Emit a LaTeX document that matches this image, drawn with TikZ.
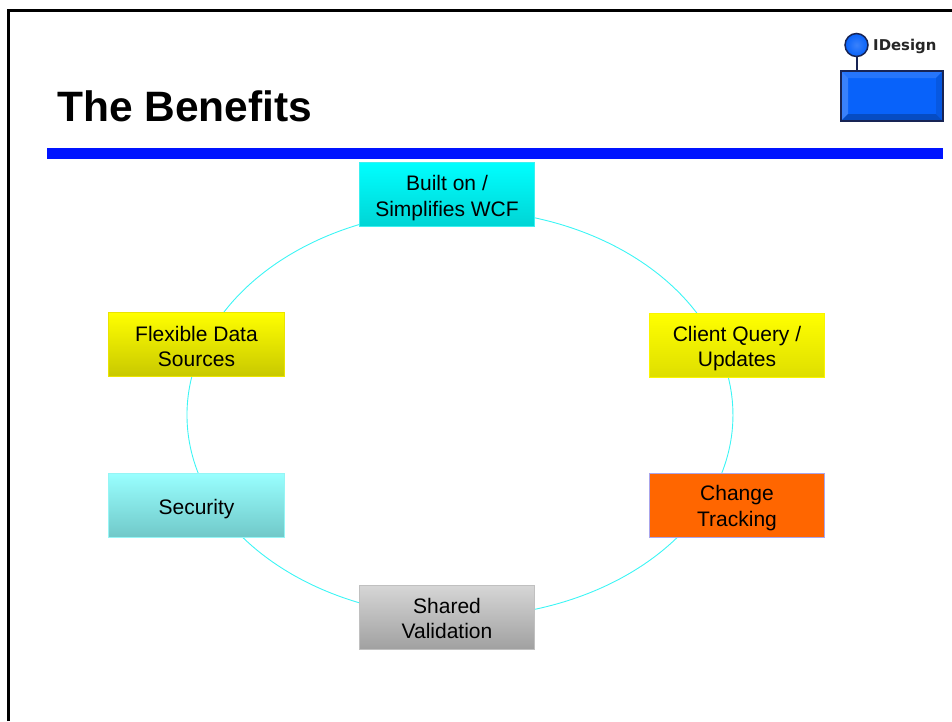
\documentclass[tikz,border=0pt]{standalone}
\usepackage{fontspec}
\setmainfont{Liberation Sans}
\newfontfamily\logofont{DejaVu Sans}[BoldFont={DejaVu Sans Bold}]
\usetikzlibrary{backgrounds}
\definecolor{barblue}{RGB}{0,20,255}
\definecolor{ringcyan}{RGB}{60,245,245}
\definecolor{logoblue}{RGB}{8,98,250}
\definecolor{logodark}{RGB}{24,36,84}
\newcommand{\firstline}[1]{\rule{0pt}{#1pt}}
\tikzset{
  benefit/.style={draw, line width=1.4pt, minimum width=175.5pt, minimum height=64.5pt,
    inner sep=0pt, align=center, font=\fontsize{21}{25.4}\selectfont, text=black},
  cyanbox/.style={benefit, draw={rgb,255:red,60;green,240;blue,240}, top color={rgb,255:red,0;green,255;blue,255}, bottom color={rgb,255:red,0;green,212;blue,212}},
  yellowa/.style={benefit, draw={rgb,255:red,235;green,228;blue,0}, top color={rgb,255:red,255;green,255;blue,0}, bottom color={rgb,255:red,200;green,200;blue,0}},
  yellowb/.style={benefit, draw={rgb,255:red,250;green,245;blue,0}, top color={rgb,255:red,255;green,255;blue,0}, bottom color={rgb,255:red,222;green,222;blue,0}},
  paleteal/.style={benefit, draw={rgb,255:red,150;green,245;blue,245}, top color={rgb,255:red,153;green,255;blue,255}, bottom color={rgb,255:red,112;green,200;blue,200}},
  orangebox/.style={benefit, draw={rgb,255:red,170;green,165;blue,235}, fill={rgb,255:red,255;green,102;blue,0}},
  graybox/.style={benefit, draw={rgb,255:red,192;green,192;blue,192}, top color={rgb,255:red,214;green,214;blue,214}, bottom color={rgb,255:red,160;green,160;blue,160}},
  ring/.style={draw=ringcyan, line width=0.9pt},
  ringarc/.style={ring, x radius=273, y radius=205},
  ringarclow/.style={ring, x radius=273, y radius=202},
  frameline/.style={draw=black, line width=2.6pt},
}
\begin{document}
\begin{tikzpicture}[x=1pt,y=-1pt]
\useasboundingbox (0,0) rectangle (952,721);
% slide frame
\draw[frameline] (8.5,721) -- (8.5,10.5) -- (952,10.5);
% title
\node[anchor=base west, inner sep=0pt, font=\fontsize{42.5}{50}\selectfont\bfseries] (title) at (57,121) {The Benefits};
\fill[barblue] (47,148) rectangle (943,159);
% logo
\draw[logodark, line width=1.6pt] (856.7,52) -- (856.7,71);
\shade[inner color=logoblue!80!white, outer color=logoblue] (856.5,45) circle (11.5);
\draw[logodark, line width=1.5pt] (856.5,45) circle (11.5);
\node[anchor=base west, inner sep=0pt, text=black!85, font=\logofont\fontsize{14.9}{16}\selectfont\bfseries] (logotext) at (873,50) {IDesign};
\fill[logoblue] (841,71) rectangle (943,121);
\fill[logoblue!88!white] (842,72) -- (942,72) -- (936,78) -- (848,78) -- cycle;
\fill[logoblue!80!white] (842,72) -- (848,78) -- (848,114) -- (842,120) -- cycle;
\fill[logoblue!78!black] (842,120) -- (848,114) -- (936,114) -- (942,120) -- cycle;
\fill[logoblue!90!black] (942,72) -- (936,78) -- (936,114) -- (942,120) -- cycle;
\draw[logodark, line width=1.2pt] (841,71) rectangle (943,121);
% benefit boxes
\node[cyanbox]   (wcf)      at (447,194.5) {\firstline{22}Built on /\\Simplifies WCF};
\node[yellowb]   (client)   at (737,345.5) {\firstline{21}Client Query /\\Updates};
\node[orangebox] (tracking) at (737,505.5) {\firstline{20}Change\\Tracking};
\node[graybox]   (shared)   at (447,617.5) {\firstline{17}Shared\\Validation};
\node[paleteal]  (security) at (196.5,505.5) {\firstline{23}Security};
\node[yellowa]   (flexible) at (196.5,344.5) {\firstline{19}Flexible Data\\Sources};
% ring connectors: elliptical arcs, anchored inside each box, hidden behind the boxes
\coordinate (ringwcf)      at ([shift={(0.1,15.7)}]wcf.center);
\coordinate (ringclient)   at ([shift={(-20.5,-0.6)}]client.center);
\coordinate (ringtracking) at ([shift={(-31.6,-1.9)}]tracking.center);
\coordinate (ringshared)   at ([shift={(0.1,-0.7)}]shared.center);
\coordinate (ringsecurity) at ([shift={(18.1,-0.6)}]security.center);
\coordinate (ringflexible) at ([shift={(7,0.4)}]flexible.center);
\begin{scope}[on background layer]
\draw[ringarc] (ringwcf) arc[start angle=-92.7, end angle=-20];
\draw[ringarc] (ringclient) arc[start angle=-20, end angle=26];
\draw[ringarclow] (ringtracking) arc[start angle=26, end angle=92.7];
\draw[ringarclow] (ringshared) arc[start angle=92.7, end angle=154];
\draw[ringarc] (ringsecurity) arc[start angle=154, end angle=200];
\draw[ringarc] (ringflexible) arc[start angle=200, end angle=267.3];
\end{scope}
\end{tikzpicture}
\end{document}
